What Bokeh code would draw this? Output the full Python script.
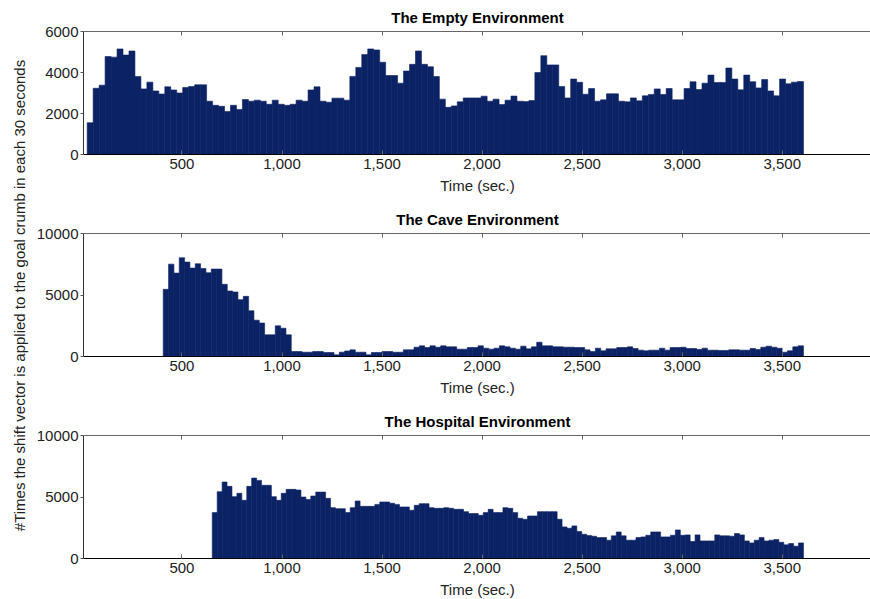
import numpy as np
from math import pi
from bokeh.plotting import figure
from bokeh.models import Range1d, LinearAxis, FixedTicker, NumeralTickFormatter, Label
from bokeh.layouts import row, column
from bokeh.embed import file_html
from bokeh.resources import INLINE

# ---------------- data ----------------
TITLES = ["The Empty Environment", "The Cave Environment", "The Hospital Environment"]
X_LABEL = "Time (sec.)"
Y_LABEL = "#Times the shift vector is applied to the goal crumb in each 30 seconds"
X_TICKS = [500, 1000, 1500, 2000, 2500, 3000, 3500]
Y_TICKS = [[0, 2000, 4000, 6000], [0, 5000, 10000], [0, 5000, 10000]]
Y_MAX = [6000, 10000, 10000]
X_LIMITS = (8, 3946)
# first and last time covered by each panel's 120 bins
T_START = [26.5, 406.5, 651.5]
T_END = 3606

empty = [1550, 3230, 3380, 4780, 4750, 5150, 4850, 5050, 3800, 3200,
         3530, 3100, 2950, 3300, 3150, 3000, 3270, 3320, 3400, 3400,
         2600, 2400, 2350, 2100, 2400, 2200, 2680, 2600, 2650, 2600,
         2450, 2650, 2450, 2400, 2450, 2650, 2600, 3150, 3300, 2600,
         2550, 2750, 2750, 2650, 3810, 4250, 4880, 5150, 5100, 4500,
         3850, 3850, 3480, 4070, 4400, 5050, 4400, 4280, 3800, 2700,
         2300, 2370, 2570, 2760, 2760, 2760, 2845, 2600, 2700, 2440,
         2650, 2850, 2600, 2580, 2630, 4000, 4820, 4370, 4370, 3320,
         2760, 3680, 3520, 2940, 3220, 2600, 2665, 2960, 2960, 2600,
         2570, 2760, 2616, 2860, 2930, 3200, 2930, 3220, 2665, 2665,
         3220, 3550, 3170, 3480, 3875, 3515, 3515, 4220, 3680, 3155,
         3875, 3550, 3250, 3660, 3100, 2860, 3680, 3450, 3530, 3560]

cave = [5460, 7510, 6780, 8030, 7680, 7190, 7540, 7160, 6810, 7110,
        7110, 5865, 5325, 5245, 4620, 4890, 3720, 2950, 2720, 1760,
        1760, 2490, 2300, 1760, 405, 405, 350, 350, 405, 405,
        325, 325, 135, 350, 450, 540, 350, 350, 135, 325,
        325, 405, 405, 350, 350, 540, 540, 757, 865, 730,
        865, 757, 865, 785, 785, 595, 595, 730, 730, 865,
        675, 595, 675, 865, 785, 675, 595, 838, 620, 785,
        1160, 865, 865, 785, 785, 757, 757, 730, 730, 540,
        405, 675, 460, 620, 620, 730, 730, 785, 650, 515,
        460, 515, 515, 675, 515, 730, 730, 757, 650, 650,
        570, 675, 515, 515, 490, 490, 540, 540, 515, 515,
        650, 570, 757, 838, 757, 675, 350, 460, 785, 865]

hospital = [3730, 5430, 6220, 5865, 5030, 5300, 4730, 5865, 6540, 6350,
            5950, 5950, 5030, 4730, 5300, 5620, 5620, 5570, 5000, 4800,
            5080, 5400, 5400, 4890, 4135, 4050, 4050, 3730, 4135, 4675,
            4240, 4240, 4240, 4400, 4595, 4595, 4490, 4400, 4190, 4190,
            3920, 4325, 4460, 4460, 4135, 4080, 4080, 4135, 4080, 4000,
            4000, 3810, 3650, 3650, 3510, 3730, 4000, 3730, 3730, 4135,
            4080, 3730, 3270, 3190, 3460, 3460, 3810, 3810, 3810, 3810,
            3190, 2570, 2460, 2650, 2190, 1970, 1865, 1810, 1700, 1700,
            1490, 1840, 2160, 1840, 1490, 1490, 1700, 1757, 1890, 2160,
            2160, 1757, 1757, 1890, 2325, 1890, 1920, 1380, 1920, 1430,
            1430, 1430, 1920, 1840, 1840, 1810, 2030, 1920, 1430, 1270,
            1490, 1700, 1430, 1490, 1540, 1325, 1110, 1215, 1000, 1270]

SERIES = [empty, cave, hospital]

# ---------------- style ----------------
NAVY = "#0b2264"
FONT = "Liberation Sans"
FS = "15px"


def make_panel(i, border_top, border_bottom):
    counts = SERIES[i]
    edges = np.linspace(T_START[i], T_END, len(counts) + 1)
    p = figure(frame_width=788, frame_height=123,
               min_border_left=49, min_border_right=0,
               min_border_top=border_top, min_border_bottom=border_bottom,
               x_range=Range1d(*X_LIMITS), y_range=Range1d(0, Y_MAX[i]),
               toolbar_location=None, output_backend="svg",
               title=TITLES[i])
    p.outline_line_color = None
    p.xgrid.visible = False
    p.ygrid.visible = False
    p.background_fill_color = "white"
    p.border_fill_color = "white"

    p.quad(left=edges[:-1], right=edges[1:], bottom=0, top=counts,
           fill_color=NAVY, line_color=NAVY, line_width=0.6)

    p.title.align = "center"
    p.title.offset = 5
    p.title.standoff = 12
    p.title.text_font = FONT
    p.title.text_font_size = FS
    p.title.text_font_style = "bold"
    p.title.text_color = "black"

    xa = p.xaxis[0]
    xa.ticker = FixedTicker(ticks=X_TICKS)
    xa.formatter = NumeralTickFormatter(format="0,0")
    xa.major_tick_in = 4
    xa.major_tick_out = 0
    xa.minor_tick_in = 0
    xa.minor_tick_out = 0
    xa.axis_line_color = "black"
    xa.major_tick_line_color = "#666666"
    xa.major_label_text_font = FONT
    xa.major_label_text_font_size = FS
    xa.major_label_text_color = "#222222"
    xa.major_label_standoff = 4
    xa.axis_label = X_LABEL
    xa.axis_label_text_font = FONT
    xa.axis_label_text_font_size = FS
    xa.axis_label_text_font_style = "normal"
    xa.axis_label_text_color = "#222222"
    xa.axis_label_standoff = 5

    ya = p.yaxis[0]
    ya.ticker = FixedTicker(ticks=Y_TICKS[i])
    ya.major_tick_in = 0
    ya.major_tick_out = 3
    ya.minor_tick_in = 0
    ya.minor_tick_out = 0
    ya.axis_line_color = "#333333"
    ya.major_tick_line_color = "#555555"
    ya.major_label_text_font = FONT
    ya.major_label_text_font_size = FS
    ya.major_label_text_color = "#222222"
    ya.major_label_standoff = 2

    # top box edge with inward ticks, no labels
    top = LinearAxis(ticker=FixedTicker(ticks=X_TICKS),
                     major_label_text_font_size="1px", major_label_text_color=None,
                     major_label_standoff=0,
                     major_tick_in=4, major_tick_out=0,
                     minor_tick_in=0, minor_tick_out=0,
                     axis_line_color="#666666", major_tick_line_color="#666666")
    p.add_layout(top, "above")
    return p


p1 = make_panel(0, 30, 43)
p2 = make_panel(1, 36, 43)
p3 = make_panel(2, 36, 42)

lab = figure(width=33, height=599, toolbar_location=None, output_backend="svg",
             x_axis_type=None, y_axis_type=None, min_border=0,
             x_range=Range1d(0, 1), y_range=Range1d(0, 1))
lab.outline_line_color = None
lab.xgrid.visible = False
lab.ygrid.visible = False
lab.add_layout(Label(x=19, y=304, x_units="screen", y_units="screen",
                     text=Y_LABEL, angle=pi / 2, text_align="center",
                     text_baseline="middle", text_font=FONT, text_font_size=FS,
                     text_color="#222222"))

layout = row(lab, column(p1, p2, p3, spacing=0), spacing=0)

open("out.html", "w").write(file_html(layout, INLINE))
